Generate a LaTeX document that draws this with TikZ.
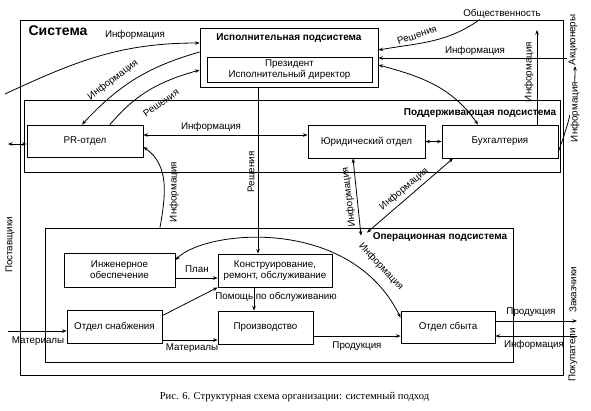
\documentclass[tikz,border=0pt]{standalone}
\usepackage{fontspec}
\setmainfont{Liberation Sans}
\newfontfamily\capfont{Liberation Serif}
\usetikzlibrary{arrows.meta}

\begin{document}
\begin{tikzpicture}[x=1pt,y=-1pt,>={Stealth[length=4.5pt,width=3.5pt]},line width=0.8pt]
	\tikzstyle{box}=[draw=black,line width=0.9pt,inner sep=1pt,align=center,font=\fontsize{9.8pt}{10.8pt}\selectfont]
	\tikzstyle{lbl}=[inner sep=0.5pt,font=\fontsize{9.8pt}{10.8pt}\selectfont]
	\tikzstyle{ttl}=[inner sep=0pt,font=\fontsize{10pt}{11pt}\selectfont\bfseries]
	\useasboundingbox (0,0) rectangle (591,410);
	\node[box,minimum width=543pt,minimum height=355pt](sys) at (291.5,197.5) {};
	\node[inner sep=0pt,font=\fontsize{14pt}{16pt}\selectfont\bfseries](sist) at (58,31) {Система};
	\node[box,minimum width=178pt,minimum height=59pt](ex) at (289,57.5) {};
	\node[ttl](ext) at (289,38) {Исполнительная подсистема};
	\node[box,minimum width=165pt,minimum height=25pt](pres) at (289.5,69.5) {Президент\\Исполнительный директор};
	\node[box,minimum width=536pt,minimum height=72pt](sup) at (292,136) {};
	\node[ttl](supt) at (480,113) {Поддерживающая подсистема};
	\node[box,minimum width=116pt,minimum height=32pt](pr) at (85,141) {PR-отдел};
	\node[box,minimum width=117pt,minimum height=33pt](jur) at (366.5,141.5) {Юридический отдел};
	\node[box,minimum width=116pt,minimum height=33pt](buh) at (500,141.5) {Бухгалтерия};
	\node[box,minimum width=468pt,minimum height=134pt](op) at (279,295) {};
	\node[ttl](opt) at (440,237) {Операционная подсистема};
	\node[box,minimum width=111pt,minimum height=34pt](ing) at (119.5,270) {Инженерное\\обеспечение};
	\node[box,minimum width=114pt,minimum height=33pt](kon) at (275,270.5) {Конструирование,\\ремонт, обслуживание};
	\node[box,minimum width=95pt,minimum height=33pt](snab) at (114.5,326.5) {Отдел снабжения};
	\node[box,minimum width=95pt,minimum height=33pt](pro) at (265.5,327.5) {Производство};
	\node[box,minimum width=94pt,minimum height=32pt](sbyt) at (448,327) {Отдел сбыта};
	\node[lbl](obsh) at (502,14) {Общественность};
	\node[lbl,rotate=90](akc) at (573,40) {Акционеры};
	\node[lbl,rotate=90](zak) at (573,290) {Заказчики};
	\node[lbl,rotate=90](pok) at (573,355) {Покупатели};
	\node[lbl,rotate=90](post) at (10,245) {Поставщики};
	\coordinate (wl) at (5,94);
	\coordinate (prl) at (8,144);
	\coordinate (akcl) at (567,58);
	\coordinate (buhu) at (537,30);
	\coordinate (akcu) at (575,66);
	\coordinate (matl) at (8,331);
	\coordinate (prodr) at (577,321);
	\coordinate (infr) at (577,336);
	\draw[->] (wl) to[out=25,in=180] ([yshift=14.5pt]ex.west);
	\node[lbl](l1) at (135,35) {Информация};
	\draw[->] ([yshift=5.5pt]ex.west) to[out=196,in=47] ([xshift=-3pt]pr.north);
	\node[lbl,rotate=37](l2) at (113,80) {Информация};
	\draw[->] ([xshift=25pt]pr.north) to[out=50,in=196] ([yshift=-12.5pt]ex.west);
	\node[lbl,rotate=35](l3) at (161,103) {Решения};
	\draw[->] ([xshift=-22pt]obsh.south) to[out=215,in=10] ([yshift=7.5pt]ex.east);
	\node[lbl,rotate=19](l4) at (417,35) {Решения};
	\draw[->] (akcl) -- (akcl -| ex.east);
	\node[lbl](l5) at (475,51) {Информация};
	\draw[<->] ([yshift=-7.5pt]ex.east) to[out=-15,in=125] ([xshift=-22pt]buh.north);
	\draw[->] ([xshift=37pt]buh.north) -- (buhu);
	\node[lbl,rotate=90](l6) at (529,72) {Информация};
	\draw[->] ([yshift=-10pt]buh.east) to[out=70,in=-90] (akcu);
	\node[lbl,rotate=90,fill=white](l7) at (575,112) {Информация};
	\draw[<->] ([yshift=6pt]pr.east) -- ([yshift=6pt]pr.east -| jur.west);
	\node[lbl](l8) at (211,127) {Информация};
	\draw[<->] (jur.east) -- (buh.west);
	\draw[<->] ([yshift=-3pt]pr.west) -- (prl);
	\draw[->] ([xshift=-31pt]ex.south) -- ([xshift=-17pt]kon.north);
	\node[lbl,rotate=90](l9) at (251,172) {Решения};
	\draw[->] ([xshift=-119pt]op.north) to[out=80,in=-35] ([yshift=-6pt]pr.east);
	\node[lbl,rotate=90](l10) at (174,192) {Информация};
	\draw[<->] ([xshift=-13.5pt]jur.south) -- ([xshift=82pt,yshift=-8pt]op.north);
	\node[lbl,rotate=97](l11) at (349,197) {Информация};
	\draw[<->] ([xshift=-47pt]buh.south) -- ([xshift=88pt,yshift=-5pt]op.north);
	\node[lbl,rotate=40](l12) at (404,189) {Информация};
	\draw[<->] ([yshift=10pt]ing.east) .. controls (205,230) and (350,215) .. ([yshift=-7pt]sbyt.north west);
	\node[lbl,rotate=-47](l13) at (381,267) {Информация};
	\draw[->] ([yshift=-8pt]ing.east) -- ([yshift=-8pt]ing.east -| kon.west);
	\node[lbl](l14) at (197,269) {План};
	\draw[->] ([yshift=-6pt]snab.north east) -- (kon.south west);
	\draw[->] ([xshift=-21pt]kon.south) -- ([xshift=-11.5pt]pro.north);
	\node[lbl](l15) at (276,297) {Помощь по обслуживанию};
	\draw[->] ([yshift=-13.5pt]snab.east) -- ([yshift=-13.5pt]snab.east -| pro.west);
	\node[lbl](l16) at (192,348) {Материалы};
	\draw[->] ([yshift=-8.5pt]pro.east) -- ([yshift=-8.5pt]pro.east -| sbyt.west);
	\node[lbl](l17) at (357,346) {Продукция};
	\draw[->] (matl) -- (matl -| snab.west);
	\node[lbl](l18) at (38,341) {Материалы};
	\draw[->] ([yshift=6pt]sbyt.east) -- (prodr);
	\node[lbl](l19) at (531,312) {Продукция};
	\draw[->] (infr) -- (infr -| sbyt.east);
	\node[lbl](l20) at (534,345) {Информация};
	\node[font=\capfont\fontsize{10.6pt}{12pt}\selectfont](cap) at (294.5,397) {Рис. 6. Структурная схема организации: системный подход};
\end{tikzpicture}
\end{document}
